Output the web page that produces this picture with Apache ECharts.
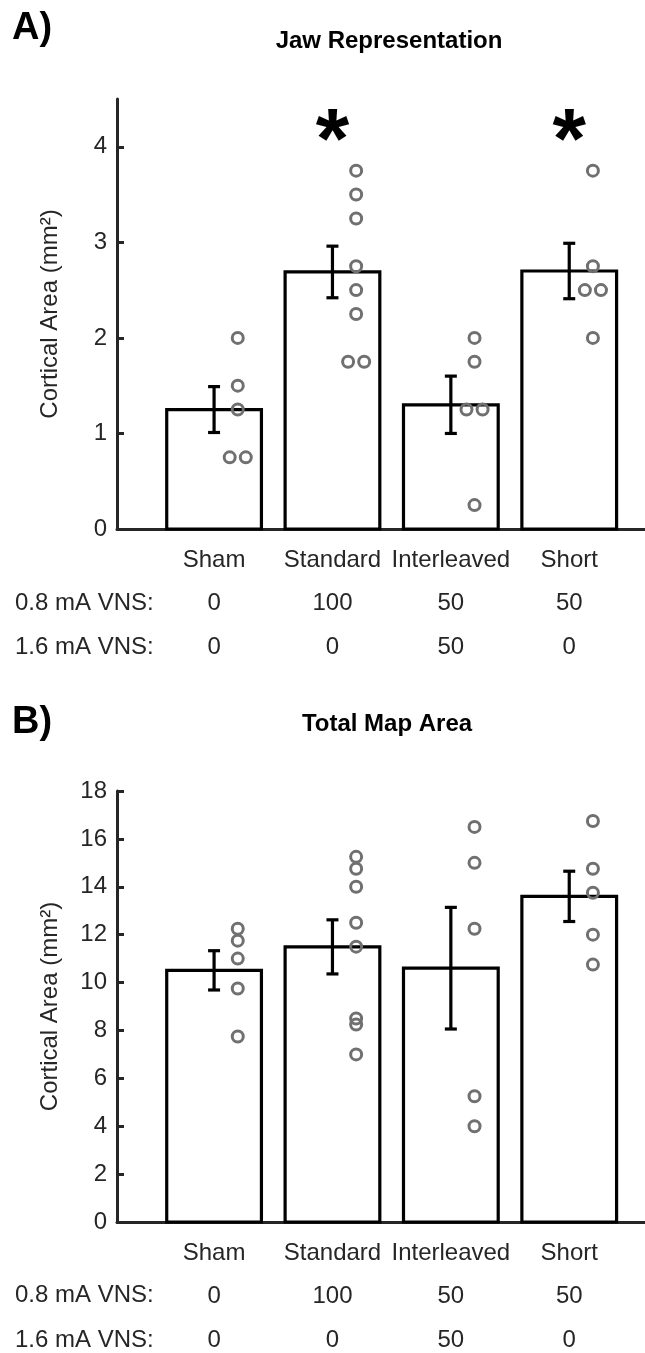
<!DOCTYPE html>
<html>
<head>
<meta charset="utf-8">
<script src="https://cdn.jsdelivr.net/npm/echarts@6/dist/echarts.min.js"></script>
<style>
  html, body { margin: 0; padding: 0; background: #fff; }
  #chart { width: 645px; height: 1353px; }
</style>
</head>
<body>
<div id="chart"></div>
<script>
// groups and protocol rows
let categories = ["Sham", "Standard", "Interleaved", "Short"]
let vns08 = ["0", "100", "50", "50"]
let vns16 = ["0", "0", "50", "0"]

// A) jaw representation (mm²)
let jawMean = [1.25, 2.69, 1.30, 2.70]
let jawSem = [0.24, 0.27, 0.30, 0.29]
let jawPoints = [
	[2.0, 1.5, 1.25, 0.75, 0.75],
	[3.75, 3.5, 3.25, 2.75, 2.5, 2.25, 1.75, 1.75],
	[2.0, 1.75, 1.25, 1.25, 0.25],
	[3.75, 2.75, 2.5, 2.5, 2.0]
]
let jawSig = ["", "*", "", "*"]

// B) total map area (mm²)
let totalMean = [10.51, 11.49, 10.60, 13.60]
let totalSem = [0.82, 1.13, 2.54, 1.05]
let totalPoints = [
	[12.25, 11.75, 11.0, 9.75, 7.75],
	[15.25, 14.75, 14.0, 12.5, 11.5, 8.5, 8.25, 7.0],
	[16.5, 15.0, 12.25, 5.25, 4.0],
	[16.75, 14.75, 13.75, 12.0, 10.75]
]

let FONT = "'Liberation Sans', Arial, Helvetica, sans-serif"
let AXIS = "#262626"
let DOT = "#707070"
let half = 0.4
let dotShift = 0.2
let pairGap = 0.068
let starLevel = 4.03

let chart = echarts.init(document.getElementById("chart"))

function barItem(params, api) {
	let x = api.value(0), y = api.value(1)
	let p0 = api.coord([x - half, y])
	let p1 = api.coord([x + half, 0])
	return {
		type: "rect",
		shape: {x: p0[0], y: p0[1], width: p1[0] - p0[0], height: p1[1] - p0[1]},
		style: {fill: "#fff", stroke: "#000", lineWidth: 3.2}
	}
}

function errItem(params, api) {
	let x = api.value(0)
	let hi = api.coord([x, api.value(1) + api.value(2)])
	let lo = api.coord([x, api.value(1) - api.value(2)])
	let cap = 6
	let st = {stroke: "#000", lineWidth: 3.2}
	return {
		type: "group",
		children: [
			{type: "line", shape: {x1: hi[0], y1: hi[1], x2: lo[0], y2: lo[1]}, style: st},
			{type: "line", shape: {x1: hi[0] - cap, y1: hi[1], x2: hi[0] + cap, y2: hi[1]}, style: st},
			{type: "line", shape: {x1: lo[0] - cap, y1: lo[1], x2: lo[0] + cap, y2: lo[1]}, style: st}
		]
	}
}

function starItem(params, api) {
	let p = api.coord([api.value(0), api.value(1)])
	return {
		type: "text",
		x: p[0], y: p[1],
		style: {text: "*", fontSize: 86, fontWeight: "bold", fontFamily: FONT, fill: "#000", align: "center", verticalAlign: "middle"}
	}
}

function dotData(points) {
	let out = []
	for (let i = 0; i < points.length; i++) {
		let seen = {}
		for (let v of points[i]) {
			let same = points[i].filter(w => w === v).length
			let k = seen[v] || 0
			seen[v] = k + 1
			let dx = same > 1 ? (k === 0 ? -pairGap : pairGap) : 0
			out.push([i + 1 + dotShift + dx, v])
		}
	}
	return out
}

function xAxes(grid) {
	let base = {
		gridIndex: grid, type: "value", min: 0.18, max: 4.64, position: "bottom",
		splitLine: {show: false}, axisTick: {show: false}
	}
	let label = (arr, margin) => ({
		customValues: [1, 2, 3, 4],
		formatter: v => arr[Math.round(v) - 1],
		fontSize: 24, color: AXIS, fontFamily: FONT, margin: margin, lineHeight: 24
	})
	return [
		Object.assign({}, base, {axisLine: {show: true, onZero: false, lineStyle: {color: AXIS, width: 3}}, axisLabel: label(categories, 19)}),
		Object.assign({}, base, {axisLine: {show: false}, axisLabel: label(vns08, 62)}),
		Object.assign({}, base, {axisLine: {show: false}, axisLabel: label(vns16, 106)})
	]
}

function yAxis(grid, max, interval, ticks) {
	let ax = {
		gridIndex: grid, type: "value", min: 0, max: max,
		name: "Cortical Area (mm²)", nameLocation: "middle", nameGap: 55,
		nameTextStyle: {fontSize: 24, color: AXIS, fontFamily: FONT},
		axisLine: {show: true, onZero: false, lineStyle: {color: AXIS, width: 3}},
		axisTick: {show: true, inside: true, length: 7, lineStyle: {color: AXIS, width: 3}},
		axisLabel: {fontSize: 24, color: AXIS, fontFamily: FONT, margin: 10},
		splitLine: {show: false}
	}
	if (ticks) {
		ax.axisTick.customValues = ticks
		ax.axisLabel.customValues = ticks
	} else {
		ax.interval = interval
	}
	return ax
}

function panelSeries(grid, xBase, mean, sem, points) {
	let bars = mean.map((m, i) => [i + 1, m])
	let errs = mean.map((m, i) => [i + 1, m, sem[i]])
	return [
		{type: "custom", xAxisIndex: xBase, yAxisIndex: grid, renderItem: barItem, data: bars, z: 2, silent: true},
		{type: "custom", xAxisIndex: xBase, yAxisIndex: grid, renderItem: errItem, data: errs, z: 3, silent: true},
		{
			type: "scatter", xAxisIndex: xBase, yAxisIndex: grid, data: dotData(points), symbol: "circle", symbolSize: 11, z: 4,
			itemStyle: {color: "rgba(0,0,0,0)", borderColor: DOT, borderWidth: 3, opacity: 1}, silent: true
		}
	]
}

let starData = []
jawSig.forEach((s, i) => { if (s) starData.push([i + 1, starLevel]) })

function textEl(text, x, y, size, bold, align) {
	return {
		type: "text", x: x, y: y, silent: true,
		style: {text: text, fontSize: size, fontWeight: bold ? "bold" : "normal", fontFamily: FONT, fill: bold ? "#000" : AXIS, align: align || "center", verticalAlign: "middle"}
	}
}

let option = {
	backgroundColor: "#fff",
	animation: false,
	textStyle: {fontFamily: FONT},
	grid: [
		{left: 117, top: 99, width: 528, height: 430},
		{left: 117, top: 791, width: 528, height: 431}
	],
	xAxis: xAxes(0).concat(xAxes(1)),
	yAxis: [
		yAxis(0, 4.5, null, [0, 1, 2, 3, 4]),
		yAxis(1, 18, 2, null)
	],
	series: panelSeries(0, 0, jawMean, jawSem, jawPoints)
		.concat(panelSeries(1, 3, totalMean, totalSem, totalPoints))
		.concat([{type: "custom", xAxisIndex: 0, yAxisIndex: 0, renderItem: starItem, data: starData, z: 5, silent: true}]),
	graphic: [
		textEl("A)", 12, 29, 38, true, "left"),
		textEl("Jaw Representation", 389, 41, 24, true),
		textEl("0.8 mA VNS:", 15, 603, 24, false, "left"),
		textEl("1.6 mA VNS:", 15, 647, 24, false, "left"),
		textEl("B)", 12, 723, 38, true, "left"),
		textEl("Total Map Area", 387, 724, 24, true),
		textEl("0.8 mA VNS:", 15, 1295, 24, false, "left"),
		textEl("1.6 mA VNS:", 15, 1340, 24, false, "left")
	]
}
chart.setOption(option)
window.onresize = chart.resize
</script>
</body>
</html>
